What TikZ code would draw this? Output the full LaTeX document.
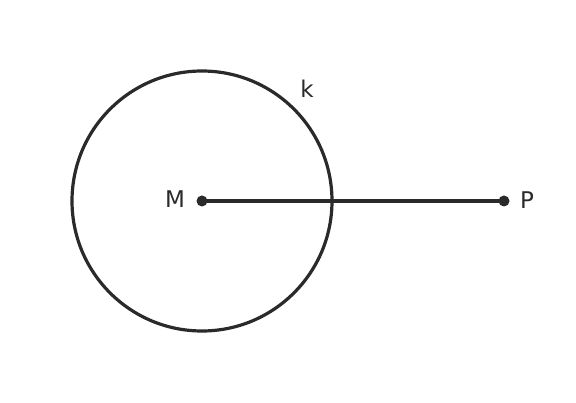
\documentclass[tikz,border=0pt]{standalone}
\usepackage{fontspec}
\setmainfont{DejaVu Sans}
\begin{document}
\begin{tikzpicture}[x=1pt,y=-1pt,
  ink/.style={draw=inkc,line width=3.2pt},
  lbl/.style={text=inkc,font=\fontsize{23}{27}\selectfont,inner sep=0pt,anchor=center},
  dotc/.style={fill=inkc,circle,inner sep=0pt,minimum size=11pt}]
\definecolor{inkc}{HTML}{2A2A2A}
\useasboundingbox (0,0) rectangle (576,403);
\coordinate (M) at (202,201);
\coordinate (P) at (504,201);
\draw[ink] (M) circle[radius=130];
\draw[ink] (M) -- (P);
\node[dotc] (Md) at (M) {};
\node[dotc] (Pd) at (P) {};
\node[lbl] (Ml) at (175,199) {M};
\node[lbl] (Pl) at (527,200) {P};
\node[lbl] (kl) at (307,89) {k};
\end{tikzpicture}
\end{document}
